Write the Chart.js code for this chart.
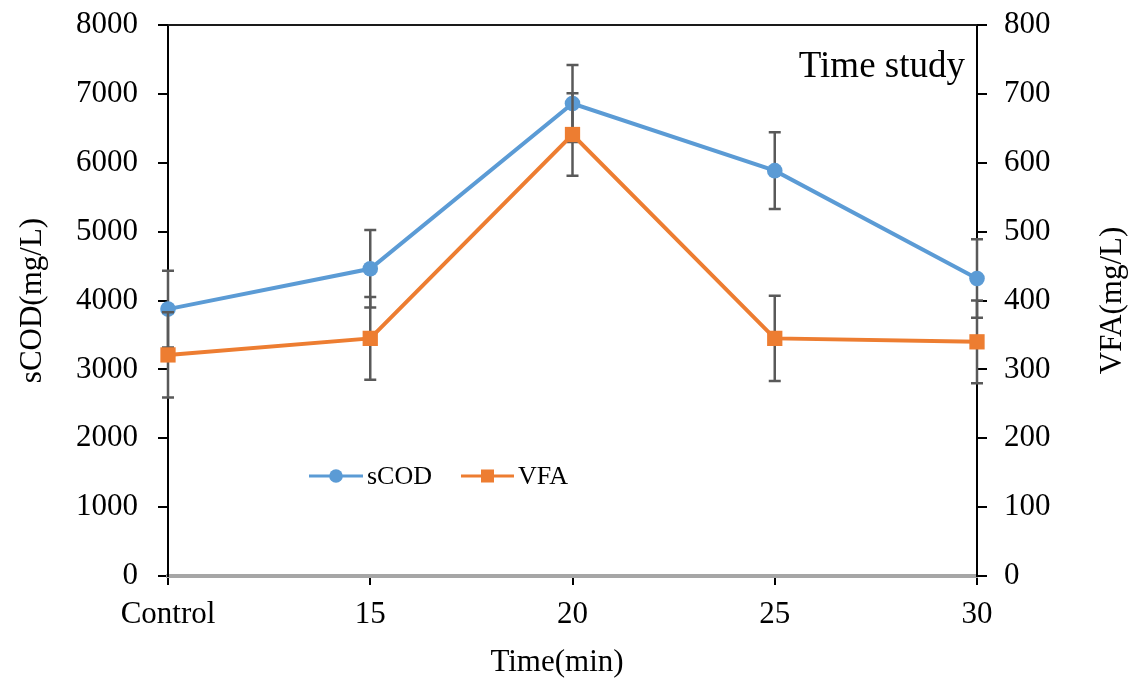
<!DOCTYPE html>
<html>
<head>
<meta charset="utf-8">
<script src="https://cdn.jsdelivr.net/npm/chart.js@4.4.1/dist/chart.umd.min.js"></script>
<style>
  html, body { margin: 0; padding: 0; background: #ffffff; }
  #wrap { width: 1135px; height: 679px; }
</style>
</head>
<body>
<div id="wrap"><canvas id="c" width="1135" height="679"></canvas></div>
<script>
// Sampling times
const categories = ['Control', '15', '20', '25', '30'];

// Soluble COD (mg/L) and its standard deviation
const scodValues = [3875, 4460, 6860, 5885, 4320];
const scodErrors = [558, 562, 558, 558, 570];

// Volatile fatty acids (mg/L) and its standard deviation
const vfaValues = [321, 345, 641, 345, 340];
const vfaErrors = [62, 60, 60, 62, 60];

// Axis ranges
const scodAxis = { min: 0, max: 8000, step: 1000 };
const vfaAxis = { min: 0, max: 800, step: 100 };

const FONT = "'Liberation Serif', 'Times New Roman', serif";
const BLUE = '#5B9BD5';
const ORANGE = '#ED7D31';

// Draws each dataset's error bars just before that dataset is painted
const errorBars = {
  id: 'errorBars',
  beforeDatasetDraw(chart, args) {
    const ds = chart.data.datasets[args.index];
    if (!ds.errors) return;
    const scale = chart.scales[ds.yAxisID];
    const ctx = chart.ctx;
    ctx.save();
    ctx.strokeStyle = '#595959';
    ctx.lineWidth = 2.5;
    args.meta.data.forEach((pt, i) => {
      const v = ds.data[i], e = ds.errors[i];
      const yTop = scale.getPixelForValue(v + e);
      const yBot = scale.getPixelForValue(v - e);
      const x = pt.x;
      ctx.beginPath();
      ctx.moveTo(x, yTop); ctx.lineTo(x, yBot);
      ctx.moveTo(x - 6, yTop); ctx.lineTo(x + 6, yTop);
      ctx.moveTo(x - 6, yBot); ctx.lineTo(x + 6, yBot);
      ctx.stroke();
    });
    ctx.restore();
  }
};

// Frame top edge, panel label, axis titles and in-plot legend
const decorations = {
  id: 'decorations',
  afterDraw(chart) {
    const { ctx, chartArea } = chart;
    ctx.save();

    ctx.strokeStyle = '#1a1a1a';
    ctx.lineWidth = 2;
    ctx.beginPath();
    ctx.moveTo(chartArea.left, chartArea.top);
    ctx.lineTo(chartArea.right, chartArea.top);
    ctx.stroke();

    ctx.fillStyle = '#000';
    ctx.font = "37px " + FONT;
    ctx.textAlign = 'right';
    ctx.textBaseline = 'alphabetic';
    ctx.fillText('Time study', 965, 77);

    // x axis title
    ctx.font = "31px " + FONT;
    ctx.textAlign = 'center';
    ctx.fillText('Time(min)', 557, 671);

    // right axis title, reading bottom to top
    ctx.save();
    ctx.translate(1113, (chartArea.top + chartArea.bottom) / 2);
    ctx.rotate(-Math.PI / 2);
    ctx.textAlign = 'center';
    ctx.textBaseline = 'middle';
    ctx.fillText('VFA(mg/L)', 0, 0);
    ctx.restore();

    // legend
    const items = [
      { ds: chart.data.datasets[0], x0: 309, x1: 363, tx: 367 },
      { ds: chart.data.datasets[1], x0: 461, x1: 514, tx: 518 }
    ];
    const ly = 476;
    ctx.font = "26px " + FONT;
    ctx.textAlign = 'left';
    ctx.textBaseline = 'alphabetic';
    items.forEach(it => {
      const c = it.ds.borderColor;
      ctx.strokeStyle = c;
      ctx.lineWidth = 3;
      ctx.beginPath();
      ctx.moveTo(it.x0, ly); ctx.lineTo(it.x1, ly);
      ctx.stroke();
      ctx.fillStyle = c;
      const cx = (it.x0 + it.x1) / 2;
      if (it.ds.pointStyle === 'rect') {
        ctx.fillRect(cx - 6.5, ly - 6.5, 13, 13);
      } else {
        ctx.beginPath();
        ctx.arc(cx, ly, 6.8, 0, Math.PI * 2);
        ctx.fill();
      }
      ctx.fillStyle = '#000';
      ctx.fillText(it.ds.label, it.tx, 484);
    });

    ctx.restore();
  }
};

Chart.defaults.font.family = FONT;
Chart.defaults.color = '#000';

function fixVertical(width) {
  return s => { s.width = width; s.paddingTop = 0; s.paddingBottom = 0; };
}

new Chart(document.getElementById('c'), {
  type: 'line',
  data: {
    labels: categories,
    datasets: [
      {
        label: 'sCOD',
        data: scodValues,
        errors: scodErrors,
        yAxisID: 'y',
        borderColor: BLUE,
        backgroundColor: BLUE,
        borderWidth: 4,
        pointStyle: 'circle',
        pointRadius: 7.8,
        pointHoverRadius: 7.8,
        pointBorderWidth: 0,
        tension: 0,
        clip: false,
        order: 2
      },
      {
        label: 'VFA',
        data: vfaValues,
        errors: vfaErrors,
        yAxisID: 'y1',
        borderColor: ORANGE,
        backgroundColor: ORANGE,
        borderWidth: 4,
        pointStyle: 'rect',
        pointRadius: 10.8,
        pointHoverRadius: 10.8,
        pointBorderWidth: 0,
        tension: 0,
        clip: false,
        order: 1
      }
    ]
  },
  options: {
    responsive: false,
    animation: false,
    devicePixelRatio: 1,
    layout: { padding: { top: 25, right: 0, bottom: 0, left: 0 } },
    plugins: {
      legend: { display: false },
      tooltip: { enabled: false }
    },
    scales: {
      x: {
        type: 'category',
        offset: false,
        grid: { display: true, drawOnChartArea: false, drawTicks: true, tickLength: 9, color: '#000', lineWidth: 2 },
        border: { display: true, color: '#a6a6a6', width: 4 },
        ticks: { font: { size: 31 }, color: '#000', padding: 11, maxRotation: 0, autoSkip: false },
        title: { display: false },
        afterFit(s) { s.height = 103; s.paddingLeft = 0; s.paddingRight = 0; }
      },
      y: {
        position: 'left',
        min: scodAxis.min,
        max: scodAxis.max,
        grid: { display: true, drawOnChartArea: false, drawTicks: true, tickLength: 10, color: '#000', lineWidth: 2 },
        border: { display: true, color: '#000', width: 2 },
        ticks: { stepSize: scodAxis.step, font: { size: 31 }, color: '#000', padding: 20, callback: v => String(v) },
        title: { display: true, text: 'sCOD(mg/L)', font: { size: 31 }, color: '#000', padding: { top: 14, bottom: 0 } },
        afterFit: fixVertical(168)
      },
      y1: {
        position: 'right',
        min: vfaAxis.min,
        max: vfaAxis.max,
        grid: { display: true, drawOnChartArea: false, drawTicks: true, tickLength: 10, color: '#000', lineWidth: 2 },
        border: { display: true, color: '#000', width: 2 },
        ticks: { stepSize: vfaAxis.step, font: { size: 31 }, color: '#000', padding: 17, callback: v => String(v) },
        afterFit: fixVertical(158)
      }
    }
  },
  plugins: [errorBars, decorations]
});
</script>
</body>
</html>
